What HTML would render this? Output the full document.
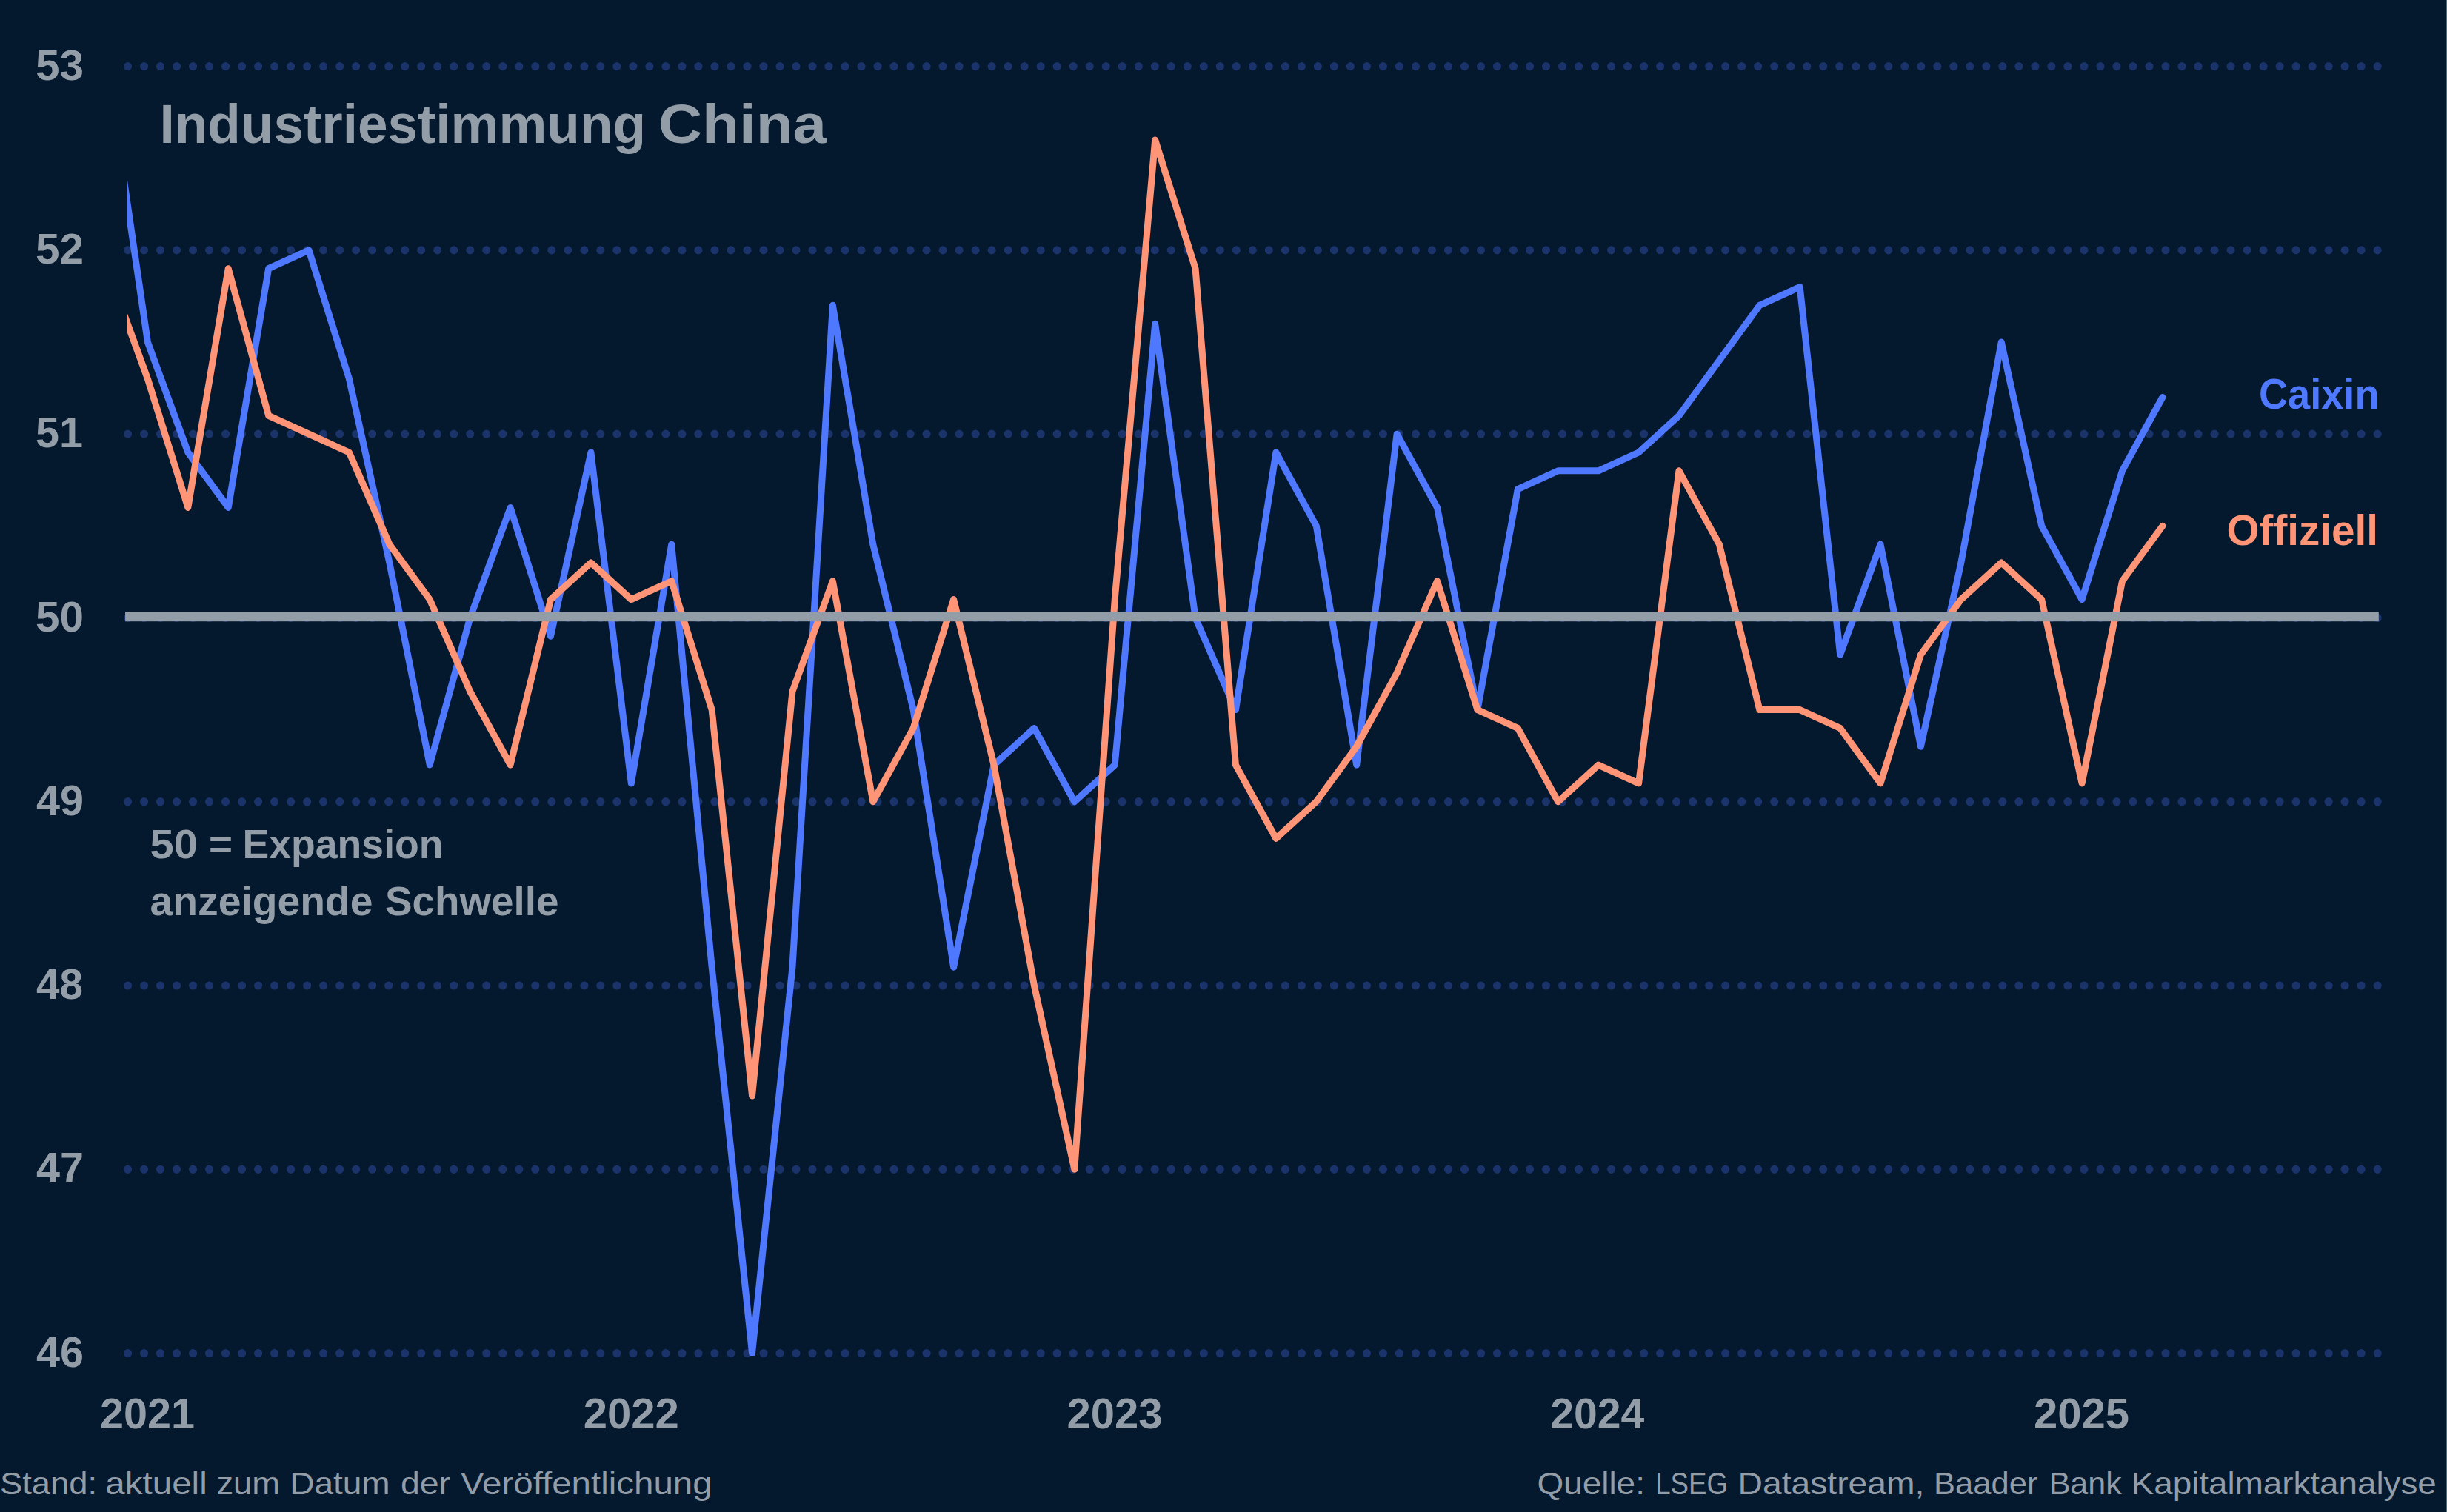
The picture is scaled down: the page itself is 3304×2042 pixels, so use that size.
<!DOCTYPE html>
<html><head><meta charset="utf-8"><title>Industriestimmung China</title>
<style>
html,body{margin:0;padding:0;background:#04182E;}
body{width:3304px;height:2042px;overflow:hidden;font-family:"Liberation Sans",sans-serif;}
svg{display:block;}
text{font-family:"Liberation Sans",sans-serif;}
.b{font-weight:bold;}
</style></head><body>
<svg width="3304" height="2042" viewBox="0 0 3304 2042">
<rect x="0" y="0" width="3304" height="2042" fill="#04182E"/>
<rect x="3303" y="0" width="1" height="2042" fill="#4F6E78"/>
<defs><clipPath id="plot"><rect x="172" y="0" width="3100" height="1831"/></clipPath></defs>

<g stroke="#1A336A" stroke-width="11.2" stroke-linecap="round" stroke-dasharray="0 22.012" fill="none">
<line x1="172.5" y1="1827.56" x2="3211" y2="1827.56"/>
<line x1="172.5" y1="1579.28" x2="3211" y2="1579.28"/>
<line x1="172.5" y1="1331.00" x2="3211" y2="1331.00"/>
<line x1="172.5" y1="1082.72" x2="3211" y2="1082.72"/>
<line x1="172.5" y1="834.44" x2="3211" y2="834.44"/>
<line x1="172.5" y1="586.16" x2="3211" y2="586.16"/>
<line x1="172.5" y1="337.88" x2="3211" y2="337.88"/>
<line x1="172.5" y1="89.60" x2="3211" y2="89.60"/>
</g>
<g clip-path="url(#plot)" fill="none" stroke-width="9" stroke-linejoin="round" stroke-linecap="round">
<polyline stroke="#4E78FF" points="144.99,89.60 199.40,462.02 253.81,610.99 308.22,685.47 362.63,362.71 417.04,337.88 471.45,511.68 525.86,759.96 580.27,1033.06 634.68,834.44 689.09,685.47 743.50,859.27 797.91,610.99 852.32,1057.89 906.73,735.13 961.14,1306.17 1015.55,1827.56 1069.96,1306.17 1124.37,412.36 1178.78,735.13 1233.19,958.58 1287.60,1306.17 1342.01,1033.06 1396.42,983.41 1450.83,1082.72 1505.24,1033.06 1559.65,437.19 1614.06,834.44 1668.47,958.58 1722.88,610.99 1777.29,710.30 1831.70,1033.06 1886.11,586.16 1940.52,685.47 1994.93,958.58 2049.34,660.64 2103.75,635.82 2158.16,635.82 2212.57,610.99 2266.98,561.33 2321.39,486.85 2375.80,412.36 2430.21,387.54 2484.62,884.10 2539.03,735.13 2593.44,1008.24 2647.85,759.96 2702.26,462.02 2756.67,710.30 2811.08,809.61 2865.49,635.82 2919.90,536.50"/>
<polyline stroke="#FF9476" points="144.99,362.71 199.40,511.68 253.81,685.47 308.22,362.71 362.63,561.33 417.04,586.16 471.45,610.99 525.86,735.13 580.27,809.61 634.68,933.75 689.09,1033.06 743.50,809.61 797.91,759.96 852.32,809.61 906.73,784.78 961.14,958.58 1015.55,1479.97 1069.96,933.75 1124.37,784.78 1178.78,1082.72 1233.19,983.41 1287.60,809.61 1342.01,1033.06 1396.42,1331.00 1450.83,1579.28 1505.24,809.61 1559.65,188.91 1614.06,362.71 1668.47,1033.06 1722.88,1132.38 1777.29,1082.72 1831.70,1008.24 1886.11,908.92 1940.52,784.78 1994.93,958.58 2049.34,983.41 2103.75,1082.72 2158.16,1033.06 2212.57,1057.89 2266.98,635.82 2321.39,735.13 2375.80,958.58 2430.21,958.58 2484.62,983.41 2539.03,1057.89 2593.44,884.10 2647.85,809.61 2702.26,759.96 2756.67,809.61 2811.08,1057.89 2865.49,784.78 2919.90,710.30"/>
</g>
<rect x="169.05" y="826.1" width="3042.75" height="13.1" fill="#929DA8"/>
<text id="y46" class="b" x="49.00" y="1845.66" font-size="58" fill="#929DA8" textLength="64.00" lengthAdjust="spacingAndGlyphs">46</text>
<text id="y47" class="b" x="49.00" y="1597.38" font-size="58" fill="#929DA8" textLength="64.00" lengthAdjust="spacingAndGlyphs">47</text>
<text id="y48" class="b" x="49.00" y="1349.10" font-size="58" fill="#929DA8" textLength="63.00" lengthAdjust="spacingAndGlyphs">48</text>
<text id="y49" class="b" x="49.00" y="1100.82" font-size="58" fill="#929DA8" textLength="64.00" lengthAdjust="spacingAndGlyphs">49</text>
<text id="y50" class="b" x="48.00" y="852.54" font-size="58" fill="#929DA8" textLength="65.00" lengthAdjust="spacingAndGlyphs">50</text>
<text id="y51" class="b" x="48.00" y="604.26" font-size="58" fill="#929DA8" textLength="64.00" lengthAdjust="spacingAndGlyphs">51</text>
<text id="y52" class="b" x="48.00" y="355.98" font-size="58" fill="#929DA8" textLength="65.00" lengthAdjust="spacingAndGlyphs">52</text>
<text id="y53" class="b" x="48.00" y="107.70" font-size="58" fill="#929DA8" textLength="65.00" lengthAdjust="spacingAndGlyphs">53</text>
<text id="x2021" class="b" x="135.00" y="1928.80" font-size="58" fill="#929DA8" textLength="128.00" lengthAdjust="spacingAndGlyphs">2021</text>
<text id="x2022" class="b" x="787.75" y="1928.80" font-size="58" fill="#929DA8" textLength="129.00" lengthAdjust="spacingAndGlyphs">2022</text>
<text id="x2023" class="b" x="1440.50" y="1928.80" font-size="58" fill="#929DA8" textLength="129.00" lengthAdjust="spacingAndGlyphs">2023</text>
<text id="x2024" class="b" x="2093.25" y="1928.80" font-size="58" fill="#929DA8" textLength="127.00" lengthAdjust="spacingAndGlyphs">2024</text>
<text id="x2025" class="b" x="2746.00" y="1928.80" font-size="58" fill="#929DA8" textLength="129.00" lengthAdjust="spacingAndGlyphs">2025</text>
<text id="t1" class="b" x="215.50" y="193.40" font-size="73.7" fill="#929DA8" textLength="656.50" lengthAdjust="spacingAndGlyphs">Industriestimmung</text>
<text id="t2" class="b" x="889.00" y="193.40" font-size="73.7" fill="#929DA8" textLength="227.00" lengthAdjust="spacingAndGlyphs">China</text>
<text id="a1" class="b" x="202.50" y="1158.60" font-size="56" fill="#929DA8" textLength="64.50" lengthAdjust="spacingAndGlyphs">50</text>
<text id="a2" class="b" x="282.00" y="1158.60" font-size="56" fill="#929DA8" textLength="32.00" lengthAdjust="spacingAndGlyphs">=</text>
<text id="a3" class="b" x="327.50" y="1158.60" font-size="56" fill="#929DA8" textLength="271.00" lengthAdjust="spacingAndGlyphs">Expansion</text>
<text id="a4" class="b" x="202.50" y="1236.30" font-size="56" fill="#929DA8" textLength="301.00" lengthAdjust="spacingAndGlyphs">anzeigende</text>
<text id="a5" class="b" x="520.00" y="1236.30" font-size="56" fill="#929DA8" textLength="234.50" lengthAdjust="spacingAndGlyphs">Schwelle</text>
<text id="cx" class="b" x="3050.00" y="552.20" font-size="57" fill="#4E78FF" textLength="162.50" lengthAdjust="spacingAndGlyphs">Caixin</text>
<text id="of" class="b" x="3006.50" y="735.60" font-size="57" fill="#FF9476" textLength="204.50" lengthAdjust="spacingAndGlyphs">Offiziell</text>
<text id="fl0" x="0.00" y="2018.20" font-size="43" fill="#929DA8" textLength="131.10" lengthAdjust="spacingAndGlyphs">Stand:</text>
<text id="fl1" x="142.30" y="2018.20" font-size="43" fill="#929DA8" textLength="137.40" lengthAdjust="spacingAndGlyphs">aktuell</text>
<text id="fl2" x="292.40" y="2018.20" font-size="43" fill="#929DA8" textLength="85.60" lengthAdjust="spacingAndGlyphs">zum</text>
<text id="fl3" x="391.20" y="2018.20" font-size="43" fill="#929DA8" textLength="135.50" lengthAdjust="spacingAndGlyphs">Datum</text>
<text id="fl4" x="540.90" y="2018.20" font-size="43" fill="#929DA8" textLength="67.20" lengthAdjust="spacingAndGlyphs">der</text>
<text id="fl5" x="622.00" y="2018.20" font-size="43" fill="#929DA8" textLength="339.60" lengthAdjust="spacingAndGlyphs">Ver&ouml;ffentlichung</text>
<text id="fr0" x="2075.40" y="2018.00" font-size="43" fill="#929DA8" textLength="145.50" lengthAdjust="spacingAndGlyphs">Quelle:</text>
<text id="fr1" x="2235.20" y="2018.00" font-size="43" fill="#929DA8" textLength="97.90" lengthAdjust="spacingAndGlyphs">LSEG</text>
<text id="fr2" x="2346.60" y="2018.00" font-size="43" fill="#929DA8" textLength="251.70" lengthAdjust="spacingAndGlyphs">Datastream,</text>
<text id="fr3" x="2611.00" y="2018.00" font-size="43" fill="#929DA8" textLength="140.50" lengthAdjust="spacingAndGlyphs">Baader</text>
<text id="fr4" x="2766.70" y="2018.00" font-size="43" fill="#929DA8" textLength="98.00" lengthAdjust="spacingAndGlyphs">Bank</text>
<text id="fr5" x="2877.80" y="2018.00" font-size="43" fill="#929DA8" textLength="412.00" lengthAdjust="spacingAndGlyphs">Kapitalmarktanalyse</text>
</svg></body></html>
